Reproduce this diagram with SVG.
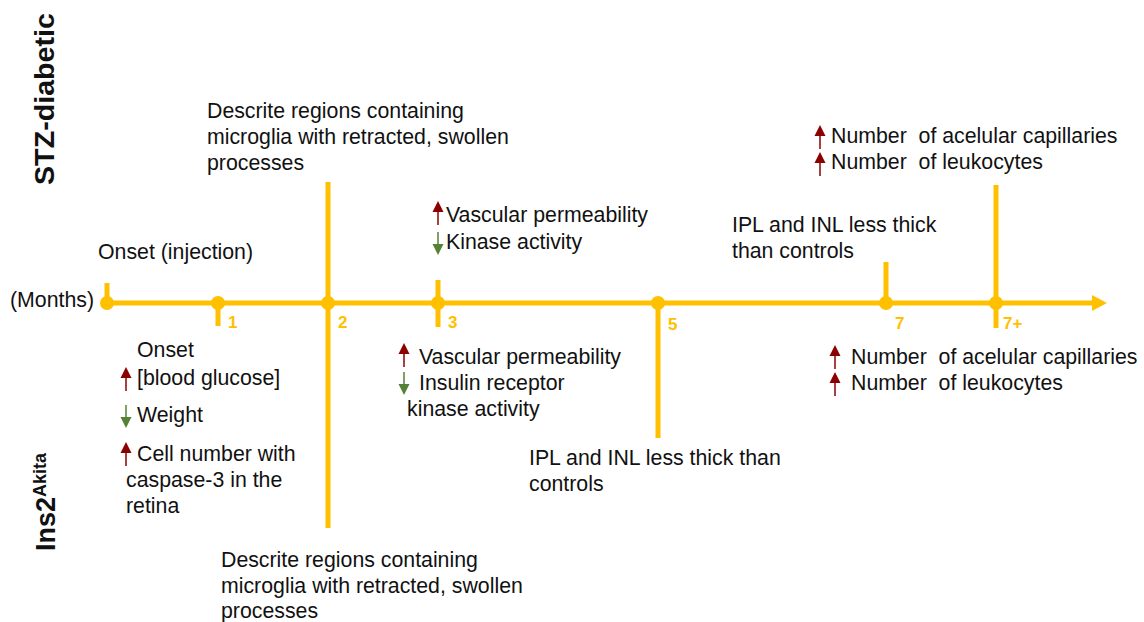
<svg xmlns="http://www.w3.org/2000/svg" xmlns:xlink="http://www.w3.org/1999/xlink" width="1144" height="622" viewBox="0 0 1144 622">
<style>
.t{font-family:"Liberation Sans",Arial,sans-serif;font-size:21.3px;fill:#111;white-space:pre}
.side{font-family:"Liberation Sans",Arial,sans-serif;font-size:27px;font-weight:bold;fill:#111}
.num{font-family:"Liberation Sans",Arial,sans-serif;font-size:17px;font-weight:bold;fill:#FFC000}
.ax{stroke:#FFC000;stroke-width:5;fill:none}
.dot{fill:#FFC000}
</style>
<defs>
<g id="up"><line x1="0" y1="8" x2="0" y2="24" stroke="#8B0000" stroke-width="1.5"/><polygon points="-5.5,11 0,0 5.5,11" fill="#8B0000"/></g>
<g id="down"><line x1="0" y1="0" x2="0" y2="14" stroke="#548235" stroke-width="1.5"/><polygon points="-5.5,12 5.5,12 0,23" fill="#548235"/></g>
</defs>
<rect width="1144" height="622" fill="#fff"/>

<g id="side-labels">
<text class="side" transform="translate(54,185) rotate(-90)" textLength="172" lengthAdjust="spacingAndGlyphs">STZ-diabetic</text>
<text class="side" transform="translate(55,551) rotate(-90)" font-size="28">Ins2<tspan font-size="18" dy="-9">Akita</tspan></text>
</g>

<g id="connectors">
<line class="ax" x1="107" y1="303" x2="1094" y2="303"/>
<polygon points="1092,295 1107,303 1092,311" fill="#FFC000"/>
<line class="ax" x1="107" y1="283" x2="107" y2="303"/>
<line class="ax" x1="218" y1="303" x2="218" y2="326"/>
<line class="ax" x1="328" y1="182" x2="328" y2="528"/>
<line class="ax" x1="438" y1="280" x2="438" y2="327"/>
<line class="ax" x1="658" y1="303" x2="658" y2="438"/>
<line class="ax" x1="886" y1="262" x2="886" y2="303"/>
<line class="ax" x1="996" y1="185" x2="996" y2="328"/>
</g>

<g id="axis-label"><text class="t" x="10" y="307">(Months)</text></g>

<g id="m0"><circle class="dot" cx="107" cy="303" r="7"/>
<text class="t" x="98" y="259">Onset (injection)</text></g>

<g id="m1"><circle class="dot" cx="218" cy="303" r="7"/>
<text class="num" x="228" y="328">1</text>
<use xlink:href="#up" x="126" y="367"/>
<use xlink:href="#down" x="126" y="405"/>
<use xlink:href="#up" x="126" y="442"/>
<text class="t" x="137" y="357">Onset</text>
<text class="t" x="137" y="385">[blood glucose]</text>
<text class="t" x="137" y="422">Weight</text>
<text class="t" x="137" y="461">Cell number with</text>
<text class="t" x="126" y="487">caspase-3 in the</text>
<text class="t" x="126" y="513">retina</text>
</g>

<g id="m2"><circle class="dot" cx="328" cy="303" r="7"/>
<text class="num" x="338" y="328">2</text>
<text class="t" x="207" y="118">Descrite regions containing</text>
<text class="t" x="207" y="144">microglia with retracted, swollen</text>
<text class="t" x="207" y="170">processes</text>
<text class="t" x="221" y="567">Descrite regions containing</text>
<text class="t" x="221" y="593">microglia with retracted, swollen</text>
<text class="t" x="221" y="618">processes</text>
</g>

<g id="m3"><circle class="dot" cx="438" cy="303" r="7"/>
<text class="num" x="448" y="328">3</text>
<use xlink:href="#up" x="438" y="201"/>
<use xlink:href="#down" x="438" y="232"/>
<text class="t" x="446" y="222">Vascular permeability</text>
<text class="t" x="446" y="249">Kinase activity</text>
<use xlink:href="#up" x="404" y="343"/>
<use xlink:href="#down" x="404" y="372"/>
<text class="t" x="419" y="364">Vascular permeability</text>
<text class="t" x="419" y="390">Insulin receptor</text>
<text class="t" x="407" y="416">kinase activity</text>
</g>

<g id="m5"><circle class="dot" cx="658" cy="303" r="7"/>
<text class="num" x="668" y="330">5</text>
<text class="t" x="529" y="465">IPL and INL less thick than</text>
<text class="t" x="529" y="491">controls</text>
</g>

<g id="m7"><circle class="dot" cx="886" cy="303" r="7"/>
<text class="num" x="895" y="329">7</text>
<text class="t" x="732" y="232">IPL and INL less thick</text>
<text class="t" x="732" y="258">than controls</text>
<use xlink:href="#up" x="835" y="345"/>
<use xlink:href="#up" x="835" y="372"/>
<text class="t" x="851" y="364">Number  of acelular capillaries</text>
<text class="t" x="851" y="390">Number  of leukocytes</text>
</g>

<g id="m7plus"><circle class="dot" cx="996" cy="303" r="7"/>
<text class="num" x="1003" y="329">7+</text>
<use xlink:href="#up" x="820" y="125"/>
<use xlink:href="#up" x="820" y="152"/>
<text class="t" x="831" y="143">Number  of acelular capillaries</text>
<text class="t" x="831" y="169">Number  of leukocytes</text>
</g>
</svg>
